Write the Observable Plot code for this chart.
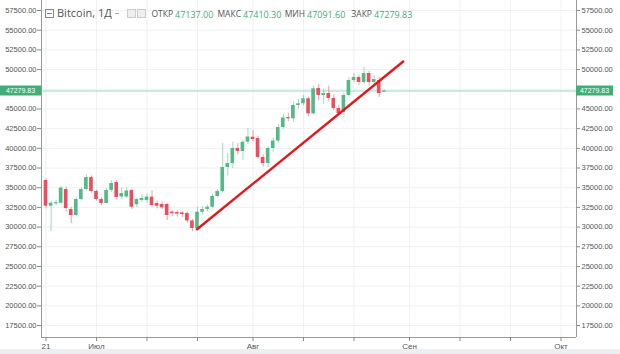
<!DOCTYPE html>
<html>
<head>
<meta charset="utf-8">
<script src="https://cdn.jsdelivr.net/npm/d3@7"></script>
<script src="https://cdn.jsdelivr.net/npm/@observablehq/plot@0.6"></script>
<style>
  html, body { margin: 0; padding: 0; background: #fff; }
  #wrap { position: relative; width: 620px; height: 354px; overflow: hidden; background: #fff; }
  #legend span { position: absolute; white-space: nowrap; font-family: "Open Sans", sans-serif; }
  .lab { font-size: 8.5px; color: #555; top: 8px; text-align: right; }
  .val { font-size: 9px; color: #3fae78; top: 7.5px; }
  #band { position: absolute; left: 0; top: 349px; width: 620px; height: 5px; background: #eceff1; }
</style>
</head>
<body>
<div id="wrap">
  <div id="chart"></div>
  <div id="legend"></div>
  <div id="band"></div>
</div>
<script>
// ---- data ----
const startDate = Date.UTC(2021, 5, 21); // 21 Jun 2021, one candle per day
const open  = [35915,32650,32950,33030,34770,32230,31470,33500,34770,36300,34520,33500,33000,34650,35660,33820,33820,34640,32830,33380,33380,33800,32990,32870,32870,31900,31850,31800,31725,30780,29790,31890,32230,32525,33884,34520,37570,38070,39980,39600,40780,41410,41250,38840,38070,39980,40930,42645,43900,43750,45440,45655,46290,44380,47600,46710,46960,46330,45060,44550,46710,48610,48990,48360,49500,48360,48610,47137];
const high  = [36100,33300,33400,35200,35100,32500,33700,35000,36600,36500,34700,33700,34900,35900,35900,35000,35000,34800,33700,34100,34200,34645,33300,33200,33000,32100,32100,32000,31900,31000,32525,32600,32800,34200,34800,40614,39340,40780,40600,41000,42517,42260,41500,39200,40200,41300,43000,44300,44460,45900,46200,46700,46500,47900,48100,47500,47900,46800,45500,47000,49000,49500,49300,50260,49800,49200,49000,47410.3];
const low   = [32300,29440,32700,32900,31900,30456,31300,33300,34600,34300,33300,32700,32900,34400,33400,33500,33600,32250,32500,33100,33000,32500,32300,32200,30836,31300,31300,31200,30500,29400,29560,31600,31900,32400,33700,34300,36500,37440,39100,38455,40500,40800,38600,37600,37565,39500,40700,42400,43400,43300,45000,45400,44000,44200,46000,45600,45900,44800,44200,43900,46500,48300,48000,48100,47900,47800,46450,47091.6];
const close = [32652,33030,33100,34940,32360,31470,33500,34770,36300,34520,33500,33000,34650,35530,33760,34260,34580,32520,33500,33630,33800,32740,32650,32450,31470,31700,31650,31600,30780,29820,31890,32230,32525,33884,34520,37570,38070,39980,39600,40780,41440,41120,38840,38070,39980,40930,42645,43850,43750,45440,45655,46290,44380,47560,46710,46960,46330,45060,44420,46710,48610,48990,48360,49500,48360,48740,46960,47279.83];

const trendDates  = [Date.UTC(2021, 6, 20, 22), Date.UTC(2021, 7, 30, 18)];
const trendValues = [29720, 51025];

const gridTicks = d3.range(17500, 57501, 2500);
// 47500 is hidden behind the current-price label in the reference
const yTicks = [17500,20000,22500,25000,27500,30000,32500,35000,37500,40000,42500,45000,50000,52500,55000,57500];
const xTickDates = [
  [2021,5,21],[2021,6,1],[2021,6,11],[2021,6,21],[2021,7,1],[2021,7,11],
  [2021,7,21],[2021,8,1],[2021,8,11],[2021,8,21],[2021,9,1]
].map(([y,m,d]) => new Date(Date.UTC(y,m,d)));
const xTickLabels = ["21","Июл","","","Авг","","","Сен","","","Окт"];

const header = {name: "Bitcoin, 1Д", open: "47137.00", high: "47410.30", low: "47091.60", close: "47279.83"};
const headerLabels = ["ОТКР", "МАКС", "МИН", "ЗАКР"];
const lastClose = close[close.length - 1];

// ---- build table ----
const DAY = 864e5;
const candles = open.map((o, i) => ({
  date: new Date(startDate + i * DAY),
  x1: new Date(startDate + i * DAY - 0.36 * DAY),
  x2: new Date(startDate + i * DAY + 0.36 * DAY),
  open: o, high: high[i], low: low[i], close: close[i],
  up: close[i] >= o
}));
const trend = trendDates.map((t, i) => ({date: new Date(t), value: trendValues[i]}));

const UP = "#53b987", DOWN = "#eb4d5c";
const xDomain = [new Date(Date.UTC(2021, 5, 20, 2, 36)), new Date(Date.UTC(2021, 9, 4, 1, 40))];
const yDomain = [15981, 58770];
const fmt = d3.format(".2f");
const labelMap = new Map(xTickDates.map((d, i) => [+d, xTickLabels[i]]));

const chart = Plot.plot({
  width: 620,
  height: 349,
  marginLeft: 41,
  marginRight: 44,
  marginTop: 0,
  marginBottom: 12,
  x: {type: "utc", domain: xDomain},
  y: {domain: yDomain},
  style: {fontFamily: "'Liberation Sans', Arial, sans-serif", fontSize: "7.5px", color: "#555", background: "white", overflow: "visible"},
  marks: [
    Plot.gridY(gridTicks, {stroke: "#eef0f3", strokeOpacity: 1}),
    Plot.gridX(xTickDates, {stroke: "#eef0f3", strokeOpacity: 1}),
    Plot.ruleY([lastClose], {stroke: "#9ad8bb", strokeWidth: 1}),
    Plot.ruleX(candles, {x: "date", y1: "low", y2: "high", stroke: d => d.up ? UP : DOWN, strokeOpacity: 0.55, strokeWidth: 1}),
    Plot.rect(candles, {x1: "x1", x2: "x2", y1: d => Math.min(d.open, d.close), y2: d => Math.max(d.open, d.close), fill: d => d.up ? UP : DOWN}),
    Plot.line(trend, {x: "date", y: "value", stroke: "#e5171c", strokeWidth: 2.4}),
    Plot.ruleX(xDomain, {stroke: "#9a9a9a"}),
    Plot.ruleY([yDomain[0]], {stroke: "#9a9a9a"}),
    Plot.axisY(yTicks, {anchor: "left", tickFormat: fmt, tickSize: 4, tickPadding: 1, stroke: "#888", fill: "#555"}),
    Plot.axisY(yTicks, {anchor: "right", tickFormat: fmt, tickSize: 3, tickPadding: 2, stroke: "#888", fill: "#555"}),
    Plot.axisX(xTickDates, {anchor: "bottom", tickSize: 4, tickPadding: 2, stroke: "#888", fill: "#555",
      tickFormat: d => labelMap.get(+d) ?? "", fontSize: "8px"})
  ]
});
document.getElementById("chart").appendChild(chart);

// price labels on both axes, positioned with the plot's y scale
const yPix = chart.scale("y").apply(lastClose);
const svg = d3.select(chart);
[[0, 41], [576, 613]].forEach(([xa, xb]) => {
  svg.append("rect").attr("x", xa).attr("y", yPix - 5).attr("width", xb - xa).attr("height", 10).attr("fill", "#3fae78");
  svg.append("text").attr("x", (xa + xb) / 2).attr("y", yPix).attr("dy", "0.34em")
    .attr("text-anchor", "middle").attr("fill", "#fff").attr("font-size", "7px")
    .attr("font-family", "'Liberation Sans', Arial, sans-serif").text(fmt(lastClose));
});

// header legend: values placed at fixed left edges, labels right-aligned just before them
const valueLefts = [175, 243, 307, 374];
const values = [header.open, header.high, header.low, header.close];
let groups = "";
values.forEach((v, i) => {
  groups += `<span class="lab" style="right:${620 - valueLefts[i] + 2}px;">${headerLabels[i]}</span>`;
  groups += `<span class="val" style="left:${valueLefts[i]}px;">${v}</span>`;
});
const leg = document.getElementById("legend");
leg.innerHTML = `
  <span style="left:45px;top:9px;width:7px;height:7px;border:1px solid #888;"></span>
  <span style="left:47px;top:13px;width:5px;height:1px;background:#888;"></span>
  <span style="left:57px;top:4.5px;font-size:11px;color:#555;">${header.name}</span>
  <span style="left:115px;top:13px;width:4px;height:1px;background:#aaa;"></span>
  <span style="left:127px;top:9px;width:7px;height:7px;border:1px solid #ccc;background:#eee;"></span>
  <span style="left:137px;top:9px;width:7px;height:7px;border:1px solid #ccc;background:#eee;"></span>
  ${groups}
`;
</script>
</body>
</html>
